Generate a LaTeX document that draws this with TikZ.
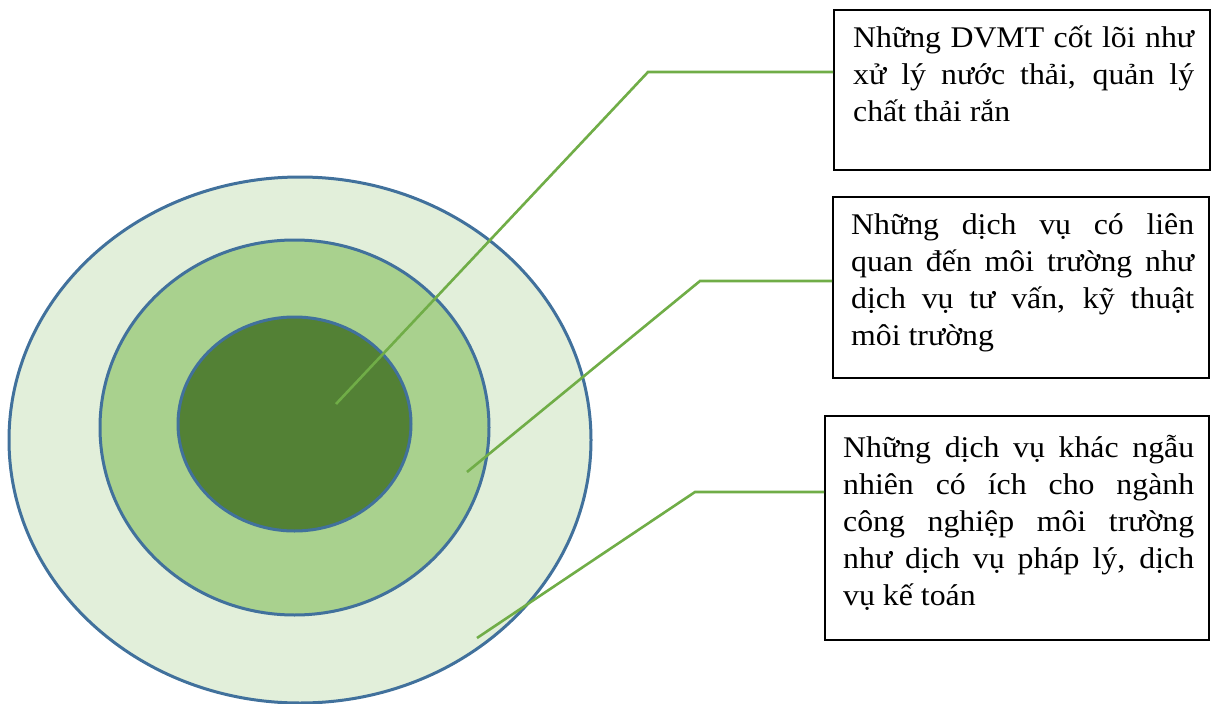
\documentclass[tikz,border=0pt]{standalone}
\usepackage{fontspec}
\setmainfont[FakeStretch=1.06]{Liberation Serif}
\definecolor{ringA}{HTML}{E2EFDA}
\definecolor{ringB}{HTML}{A9D18E}
\definecolor{ringC}{HTML}{538135}
\definecolor{ringEdge}{HTML}{41719C}
\definecolor{leader}{HTML}{70AD47}
\newcommand\jl[1]{\makebox[\linewidth][s]{#1}}
\tikzset{
  ring/.style={draw=ringEdge, line width=3pt},
  boxst/.style={draw=black, line width=2pt, inner sep=0pt, anchor=north west},
  txt/.style={inner sep=0pt, anchor=base west, font=\fontsize{30}{37}\selectfont},
  lead/.style={draw=leader, line width=2.6pt}
}
\begin{document}
\begin{tikzpicture}[x=1pt,y=-1pt]
\useasboundingbox (0,0) rectangle (1211,704);
% rings
\path[ring, fill=ringA] (300,440) ellipse [x radius=291, y radius=263];
\path[ring, fill=ringB] (294.5,427.5) ellipse [x radius=194.5, y radius=187.5];
\path[ring, fill=ringC] (294.5,424) ellipse [x radius=116.5, y radius=107];
% boxes
\node[boxst, minimum width=376pt, minimum height=160pt] (b1) at (833,9) {};
\node[boxst, minimum width=376pt, minimum height=181pt] (b2) at (832,196) {};
\node[boxst, minimum width=384pt, minimum height=224pt] (b3) at (824,415) {};
% texts
\node[txt] (t1) at (853,47) {\parbox[t]{341pt}{\jl{Những DVMT cốt lõi như}\\\jl{xử lý nước thải, quản lý}\\chất thải rắn}};
\node[txt] (t2) at (851,234) {\parbox[t]{343pt}{\jl{Những dịch vụ có liên}\\\jl{quan đến môi trường như}\\\jl{dịch vụ tư vấn, kỹ thuật}\\môi trường}};
\node[txt] (t3) at (843,457) {\parbox[t]{351pt}{\jl{Những dịch vụ khác ngẫu}\\\jl{nhiên có ích cho ngành}\\\jl{công nghiệp môi trường}\\\jl{như dịch vụ pháp lý, dịch}\\vụ kế toán}};
% leader coordinates
\coordinate (e1) at (336,404);
\coordinate (k1) at (648,72);
\coordinate (e2) at (467,472);
\coordinate (k2) at (700,281);
\coordinate (e3) at (477,638);
\coordinate (k3) at (695,492);
\draw[lead] (e1) -- (k1) -- (k1 -| b1.west);
\draw[lead] (e2) -- (k2) -- (k2 -| b2.west);
\draw[lead] (e3) -- (k3) -- (k3 -| b3.west);
\end{tikzpicture}
\end{document}
